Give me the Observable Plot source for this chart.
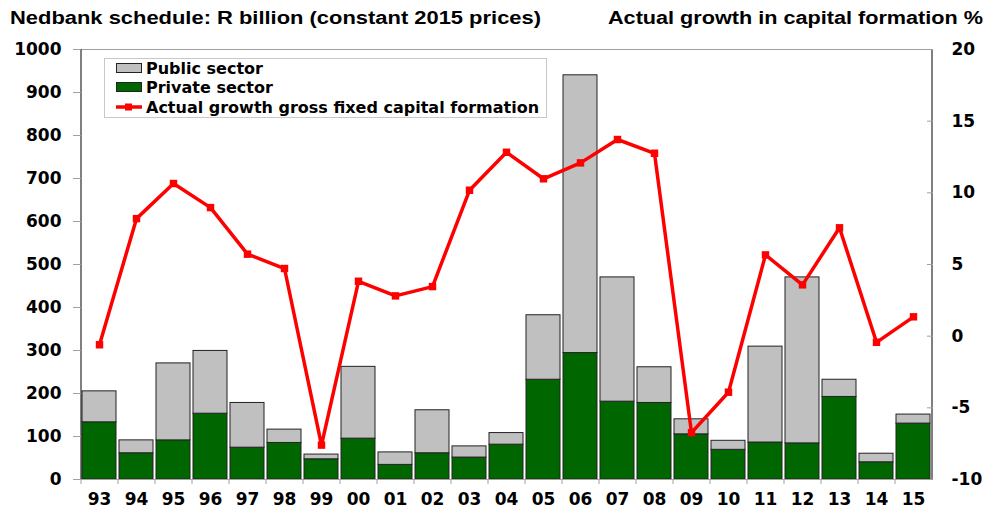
<!DOCTYPE html>
<html>
<head>
<meta charset="utf-8">
<script src="https://cdn.jsdelivr.net/npm/d3@7"></script>
<script src="https://cdn.jsdelivr.net/npm/@observablehq/plot@0.6"></script>
<style>
  html, body { margin: 0; padding: 0; background: #fff; }
  #wrap { position: relative; width: 986px; height: 508px; overflow: hidden; font-family: "DejaVu Sans", sans-serif; }
  #wrap > svg { position: absolute; left: 0; top: 0; }
  .ttl { position: absolute; top: 8px; font-family: "Liberation Sans", Arial, sans-serif; font-weight: bold; font-size: 18px; white-space: nowrap; color: #000; transform-origin: 0 0; }
  #legend { position: absolute; left: 104px; top: 58px; width: 441px; height: 58px; border: 1px solid #c8c8c8; background: #fff; font-family: "DejaVu Sans", sans-serif; font-weight: bold; font-size: 16px; }
  .row { position: absolute; left: 11px; height: 20px; line-height: 20px; white-space: nowrap; }
  .sw { display: inline-block; width: 24px; height: 8px; border: 1px solid #222; vertical-align: middle; margin-right: 4px; position: relative; top: -2px; }
  .ln { display: inline-block; width: 26px; height: 20px; vertical-align: middle; margin-right: 4px; position: relative; top: -2px; }
</style>
</head>
<body>
<div id="wrap">
  <div class="ttl" id="t1">Nedbank schedule: R billion (constant 2015 prices)</div>
  <div class="ttl" id="t2">Actual growth in capital formation %</div>
  <div id="legend">
    <div class="row" style="top:0px"><span class="sw" style="background:#c0c0c0"></span>Public sector</div>
    <div class="row" style="top:19px"><span class="sw" style="background:#006600"></span>Private sector</div>
    <div class="row" style="top:39px"><svg class="ln" width="26" height="20"><line x1="0" y1="10" x2="26" y2="10" stroke="#ff0000" stroke-width="3.5"/><rect x="9" y="6.5" width="7" height="7" fill="#ff0000"/></svg>Actual growth gross fixed capital formation</div>
  </div>
</div>
<script>
const years = ["93","94","95","96","97","98","99","00","01","02","03","04","05","06","07","08","09","10","11","12","13","14","15"];
const privateSector = [133, 61, 91, 153, 74, 85, 47, 95, 34, 61, 51, 81, 232, 294, 181, 178, 105, 69, 86, 84, 192, 40, 130];
const publicSector  = [72, 30, 179, 146, 104, 31, 11, 167, 29, 100, 26, 27, 150, 646, 289, 83, 35, 21, 223, 386, 40, 20, 21];
const growth = [-0.6, 8.2, 10.65, 8.97, 5.72, 4.72, -7.6, 3.83, 2.81, 3.46, 10.18, 12.83, 10.98, 12.09, 13.72, 12.76, -6.73, -3.91, 5.67, 3.58, 7.56, -0.43, 1.35];
const leftTicks = [0, 100, 200, 300, 400, 500, 600, 700, 800, 900, 1000];
const rightTicks = [-10, -5, 0, 5, 10, 15, 20];

// right axis (-10..20) mapped onto the left axis domain (0..1000)
const toLeft = g => (g + 10) / 30 * 1000;
const fromLeft = v => Math.round(v * 30 / 1000 - 10);

const bars = [];
years.forEach((y, i) => {
  bars.push({year: y, sector: "Private sector", value: privateSector[i]});
  bars.push({year: y, sector: "Public sector", value: publicSector[i]});
});
const line = years.map((y, i) => ({year: y, g: growth[i]}));

const W = 986, H = 508;
const mL = 81, mR = 54, mT = 49, mB = 29;
const step = (W - mL - mR) / years.length;
const grey = "#a0a0a0";

const chart = Plot.plot({
  width: W, height: H,
  marginLeft: mL, marginRight: mR, marginTop: mT, marginBottom: mB,
  style: {fontFamily: "DejaVu Sans", fontWeight: "bold", fontSize: "17px", color: "#000", background: "transparent"},
  x: {type: "band", domain: years, paddingInner: 0.08, paddingOuter: 0.04, label: null},
  y: {domain: [0, 1000], label: null},
  color: {domain: ["Private sector", "Public sector"], range: ["#006600", "#c0c0c0"]},
  marks: [
    Plot.ruleY([1000], {stroke: grey, strokeWidth: 1}),
    Plot.barY(bars, {x: "year", y: "value", fill: "sector", stroke: "#222", strokeWidth: 1, order: ["Private sector", "Public sector"]}),
    Plot.ruleY([0], {stroke: grey, strokeWidth: 1}),
    Plot.ruleX([years[0]], {dx: -step / 2, stroke: "#000", strokeWidth: 1}),
    Plot.ruleX([years[years.length - 1]], {dx: step / 2, stroke: "#000", strokeWidth: 1}),
    Plot.axisY({anchor: "left", ticks: leftTicks, tickSize: 8, tickPadding: 12, stroke: grey, tickFormat: d => String(d), fill: "#000"}),
    Plot.axisY({anchor: "right", ticks: rightTicks.map(toLeft), tickSize: 6, dx: -6, stroke: grey, text: null}),
    Plot.axisY({anchor: "right", ticks: rightTicks.map(toLeft), tickSize: 0, tickPadding: 19, tickFormat: fromLeft, textAnchor: "start", fill: "#000"}),
    Plot.axisX({anchor: "bottom", tickSize: 5, dx: -step / 2, stroke: grey, text: null}),
    Plot.axisX({anchor: "bottom", tickSize: 0, tickPadding: 13, fill: "#000"}),
    Plot.line(line, {x: "year", y: d => toLeft(d.g), stroke: "#ff0000", strokeWidth: 3.5}),
    Plot.dot(line, {x: "year", y: d => toLeft(d.g), symbol: "square", r: 4.2, fill: "#ff0000", stroke: "none"})
  ]
});
document.getElementById("wrap").insertBefore(chart, document.getElementById("t1"));

function fit(id, left, right) {
  const el = document.getElementById(id);
  const w = el.getBoundingClientRect().width;
  el.style.left = left + "px";
  el.style.transform = `scaleX(${(right - left) / w})`;
}
fit("t1", 10, 541);
fit("t2", 608, 983);
</script>
</body>
</html>
